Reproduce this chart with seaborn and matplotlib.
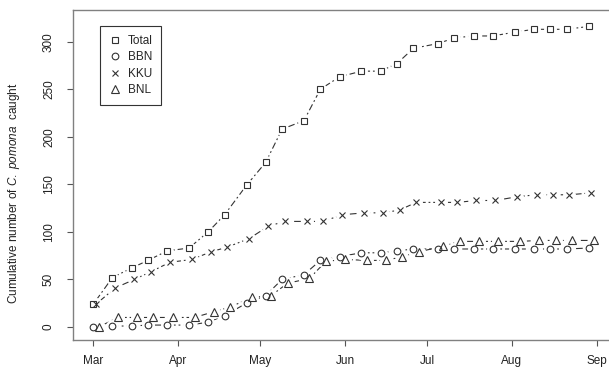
import matplotlib
matplotlib.use('Agg')
import matplotlib.pyplot as plt
import matplotlib.dates as mdates
import pandas as pd
import seaborn as sns

# weekly trap checks, cumulative catches per site
sample_dates = ['2009-03-01', '2009-03-08', '2009-03-15', '2009-03-21', '2009-03-28',
                '2009-04-05', '2009-04-12', '2009-04-18', '2009-04-26', '2009-05-03',
                '2009-05-09', '2009-05-17', '2009-05-23', '2009-05-30', '2009-06-07',
                '2009-06-14', '2009-06-20', '2009-06-26', '2009-07-05', '2009-07-11',
                '2009-07-18', '2009-07-25', '2009-08-02', '2009-08-09', '2009-08-15',
                '2009-08-21', '2009-08-29']
total = [24, 52, 62, 70, 80, 83, 100, 118, 149, 173, 208, 217, 250, 263, 269,
         269, 277, 293, 298, 304, 306, 306, 310, 313, 313, 313, 316]
bbn = [0, 1, 1, 2, 2, 2, 5, 12, 25, 33, 50, 55, 70, 74, 78,
       78, 80, 82, 82, 82, 82, 82, 82, 82, 82, 82, 83]
kku = [24, 41, 50, 58, 68, 71, 79, 84, 93, 106, 111, 111, 111, 118, 120,
       120, 123, 131, 131, 131, 133, 133, 137, 139, 139, 139, 141]
bnl = [0, 10, 10, 10, 10, 10, 16, 21, 31, 33, 46, 51, 69, 71, 70,
       70, 74, 79, 85, 90, 90, 90, 90, 91, 91, 91, 91]
# sites were not all visited on the same day
site_lag_days = {'Total': 0, 'BBN': 0, 'KKU': 1, 'BNL': 2}
site_markers = {'Total': 's', 'BBN': 'o', 'KKU': 'x', 'BNL': '^'}
marker_size = {'Total': 4.8, 'BBN': 4.8, 'KKU': 5.0, 'BNL': 5.8}

frames = []
for name, vals in [('Total', total), ('BBN', bbn), ('KKU', kku), ('BNL', bnl)]:
    d = pd.to_datetime(sample_dates) + pd.Timedelta(days=site_lag_days[name])
    frames.append(pd.DataFrame({'date': d, 'count': vals, 'site': name}))
df = pd.concat(frames, ignore_index=True)

sns.set_style('ticks')
plt.rcParams['font.family'] = ['Liberation Sans', 'DejaVu Sans']
plt.rcParams['mathtext.fontset'] = 'custom'
plt.rcParams['mathtext.rm'] = 'Liberation Sans'
plt.rcParams['mathtext.it'] = 'Liberation Sans:italic'

fig = plt.figure(figsize=(6.09, 3.74), dpi=100)
ax = fig.add_axes([73 / 609, 34 / 374, 544 / 609, 330 / 374])

dash = (0, (1.6, 2.6, 6.0, 2.6))
for name in site_markers:
    sub = df[df['site'] == name]
    sns.lineplot(data=sub, x='date', y='count', ax=ax, color='#333333', lw=0.8,
                 linestyle=dash, estimator=None, zorder=2)
# knock out line around points (R type="b")
for name in site_markers:
    sub = df[df['site'] == name]
    sns.lineplot(data=sub, x='date', y='count', ax=ax, marker='o', markersize=8.5,
                 mfc='white', mec='white', linestyle='none', estimator=None, zorder=3)
for name, m in site_markers.items():
    sub = df[df['site'] == name]
    sns.lineplot(data=sub, x='date', y='count', ax=ax, marker=m,
                 markersize=marker_size[name], mfc='none', mec='#333333', mew=0.8,
                 linestyle='none', estimator=None, label=name, zorder=4)

ax.set_xlim(pd.Timestamp('2009-02-21 14:00'), pd.Timestamp('2009-09-08 10:00'))
ax.set_ylim(-13.7, 333.3)
ax.set_yticks([0, 50, 100, 150, 200, 250, 300])
ax.xaxis.set_major_locator(mdates.MonthLocator())
ax.xaxis.set_major_formatter(mdates.DateFormatter('%b'))
ax.set_xlabel('')
ax.set_ylabel(r'Cumulative number of $\mathit{C.\ pomona}$  caught',
              fontsize=8.5, color='#222222')
ax.yaxis.set_label_coords(-0.093, 0.445)

for s in ax.spines.values():
    s.set_color('#808080')
    s.set_linewidth(1.0)
ax.tick_params(length=4, width=0.8, color='#555555', labelsize=8.5,
               labelcolor='#222222')
ax.tick_params(axis='x', pad=7)
ax.tick_params(axis='y', labelrotation=90, pad=9)
for t in ax.get_yticklabels():
    t.set_va('center')

leg = ax.legend(loc='upper left', bbox_to_anchor=(0.0496, 0.9515), borderaxespad=0,
                frameon=True, fancybox=False, edgecolor='#333333', framealpha=1,
                handlelength=1.0, handletextpad=0.6, borderpad=0.75,
                labelspacing=0.38, fontsize=8.5)
leg.get_frame().set_linewidth(0.8)

fig.savefig('out.png', dpi=100)
